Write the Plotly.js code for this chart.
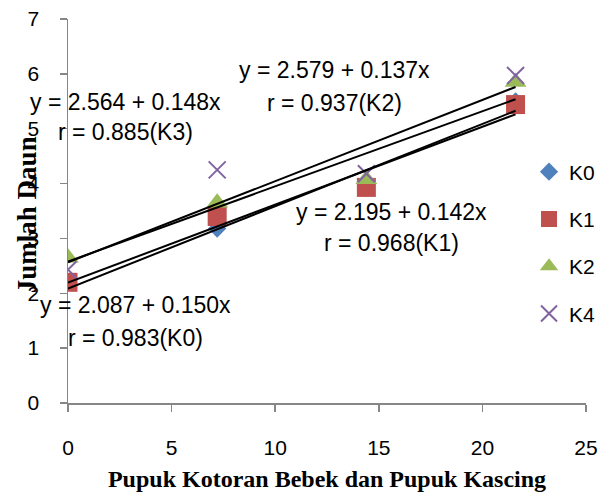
<!DOCTYPE html>
<html>
<head>
<meta charset="utf-8">
<script src="https://cdn.plot.ly/plotly-3.0.1.min.js"></script>
<style>html,body{margin:0;padding:0;background:#fff;}#chart{width:613px;height:499px;}</style>
</head>
<body>
<div id="chart"></div>
<script>
const dosis = [0, 7.2, 14.4, 21.6];
const seriesNames = ["K0", "K1", "K2", "K4"];
const K0 = [2.2, 3.18, 4.0, 5.5];
const K1 = [2.2, 3.4, 3.93, 5.44];
const K2 = [2.65, 3.65, 4.08, 5.85];
const K4 = [2.43, 4.25, 4.18, 5.97];
const intercepts = [2.087, 2.195, 2.579, 2.564];
const slopes = [0.150, 0.142, 0.137, 0.148];
const eqLabels = ["y = 2.087 + 0.150x", "y = 2.195 + 0.142x", "y = 2.579 + 0.137x", "y = 2.564 + 0.148x"];
const rLabels = ["r = 0.983(K0)", "r = 0.968(K1)", "r = 0.937(K2)", "r = 0.885(K3)"];
const xTicks = [0, 5, 10, 15, 20, 25];
const yTicks = [0, 1, 2, 3, 4, 5, 6, 7];
const xTitle = "Pupuk Kotoran Bebek dan Pupuk Kascing";
const yTitle = "Jumlah Daun";

const values = [K0, K1, K2, K4];
const colors = ["#4F81BD", "#C0504D", "#9BBB59", "#8064A2"];
const symbols = ["diamond", "square", "triangle-up", "x-thin-open"];
const sizes = [14, 19, 19, 17];

const traces = [];
values.forEach((v, i) => {
  traces.push({
    x: dosis, y: v, name: seriesNames[i], type: "scatter", mode: "markers",
    legendgroup: "g" + i,
    marker: {symbol: symbols[i], size: sizes[i], color: colors[i],
             line: {color: colors[i], width: i === 3 ? 2 : 0}}
  });
});
values.forEach((v, i) => {
  const xs = [dosis[0], dosis[dosis.length - 1]];
  traces.push({
    x: xs, y: xs.map(x => intercepts[i] + slopes[i] * x),
    type: "scatter", mode: "lines", showlegend: false, hoverinfo: "skip",
    line: {color: "#000", width: 2}
  });
});

const sans = "Liberation Sans, Arial, sans-serif";
const serif = "Liberation Serif, Times New Roman, serif";
const annFont = {family: sans, size: 23, color: "#000"};
const annPos = [
  [[136, 305], [136, 338]],
  [[393, 212], [393, 243]],
  [[336, 70], [336, 103]],
  [[126, 102], [126, 132]]
];
const L = 68, R = 588, T = 19, B = 403;
const annotations = [];
annPos.forEach((p, i) => {
  [eqLabels[i], rLabels[i]].forEach((txt, j) => {
    annotations.push({
      text: txt, showarrow: false, font: annFont,
      xref: "paper", yref: "paper",
      x: (p[j][0] - L) / (R - L), y: (B - p[j][1]) / (B - T),
      xanchor: "center", yanchor: "middle"
    });
  });
});
// y-axis title drawn as rotated annotation so it can overlap tick labels like the original
annotations.push({
  text: "<b>" + yTitle + "</b>", showarrow: false, textangle: -90,
  font: {family: serif, size: 27, color: "#000"},
  xref: "paper", yref: "paper",
  x: (27 - L) / (R - L), y: (B - 215) / (B - T),
  xanchor: "center", yanchor: "middle"
});

const layout = {
  width: 613, height: 499,
  margin: {l: 68, r: 25, t: 19, b: 96},
  paper_bgcolor: "#fff", plot_bgcolor: "#fff",
  font: {family: sans, size: 21, color: "#000"},
  xaxis: {
    range: [0, 25], tickvals: xTicks, ticktext: xTicks.map(String),
    showgrid: false, zeroline: false, showline: true, linecolor: "#868686", linewidth: 1.5,
    ticks: "outside", ticklen: 7, tickcolor: "#868686", tickwidth: 1.5,
    ticklabelstandoff: 18,
    tickfont: {family: sans, size: 21},
    title: {text: xTitle, standoff: 12,
            font: {family: serif, size: 24, weight: "bold"}}
  },
  yaxis: {
    range: [0, 7], tickvals: yTicks, ticktext: yTicks.map(String),
    showgrid: false, zeroline: false, showline: true, linecolor: "#868686", linewidth: 1.5,
    ticks: "outside", ticklen: 7, tickcolor: "#868686", tickwidth: 1.5,
    ticklabelstandoff: 16,
    tickfont: {family: sans, size: 21}
  },
  showlegend: true,
  legend: {
    x: 0.89, y: 0.655, xanchor: "left", yanchor: "top",
    bgcolor: "rgba(0,0,0,0)", tracegroupgap: 17,
    font: {family: sans, size: 21}
  },
  annotations: annotations
};

Plotly.newPlot("chart", traces, layout, {displayModeBar: false, staticPlot: true});
</script>
</body>
</html>
